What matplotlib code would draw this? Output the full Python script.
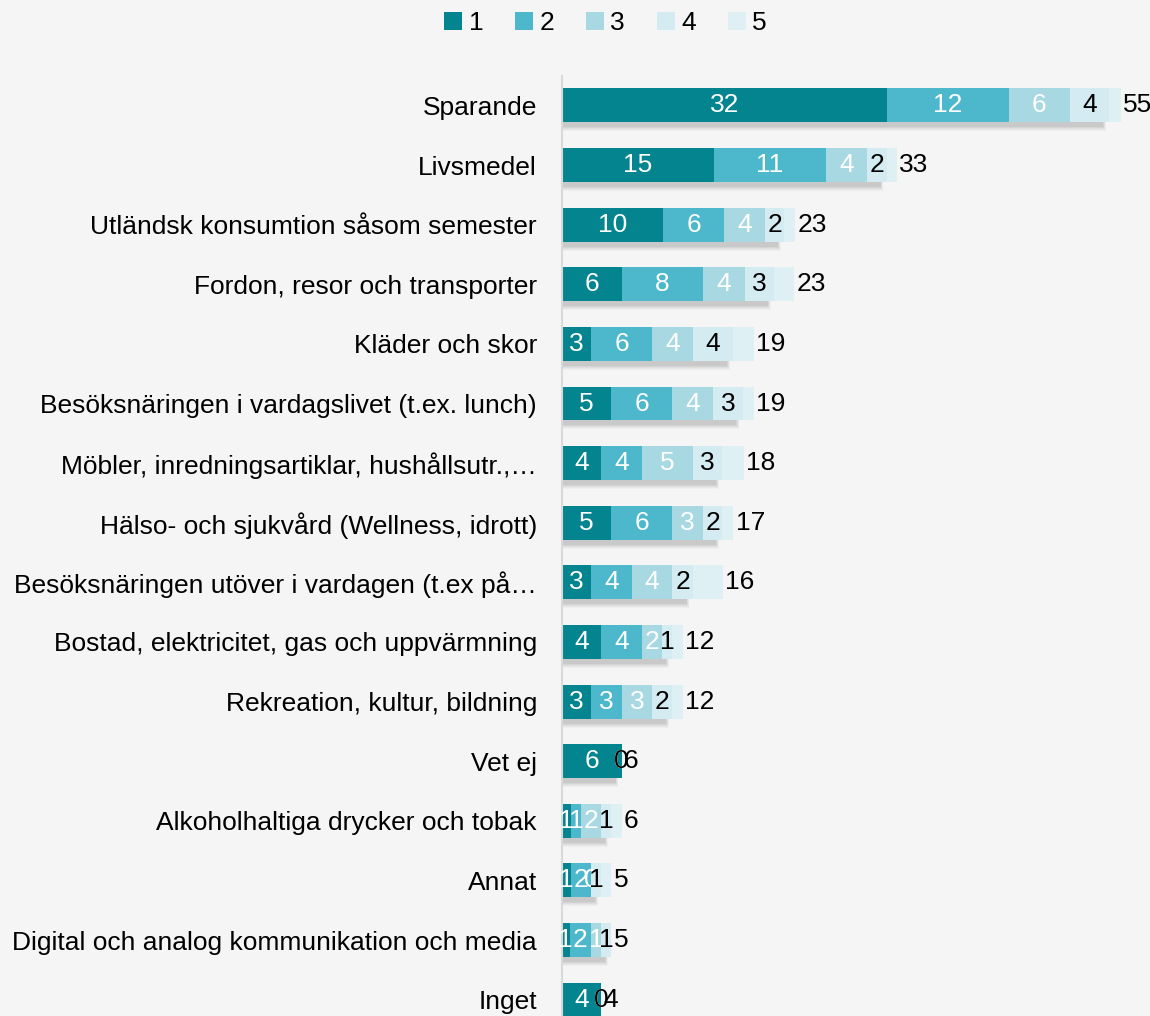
import matplotlib
matplotlib.use('Agg')
from matplotlib import pyplot as plt
from matplotlib.patches import Patch, Rectangle

plt.rcParams['font.family'] = ['Liberation Sans', 'DejaVu Sans']

categories = ['Sparande', 'Livsmedel', 'Utländsk konsumtion såsom semester',
              'Fordon, resor och transporter', 'Kläder och skor',
              'Besöksnäringen i vardagslivet (t.ex. lunch)',
              'Möbler, inredningsartiklar, hushållsutr.,…',
              'Hälso- och sjukvård (Wellness, idrott)',
              'Besöksnäringen utöver i vardagen (t.ex på…',
              'Bostad, elektricitet, gas och uppvärmning',
              'Rekreation, kultur, bildning', 'Vet ej',
              'Alkoholhaltiga drycker och tobak', 'Annat',
              'Digital och analog kommunikation och media', 'Inget']
s1 = [32, 15, 10, 5.9, 2.9, 4.9, 3.9, 4.9, 2.9, 3.9, 2.9, 5.9, 0.9, 0.9, 0.8, 3.9]
s2 = [12, 11, 6, 8, 6, 6, 4, 6, 4, 4, 3, 0, 1, 2, 2.1, 0]
s3 = [6, 4, 4, 4.1, 4, 4, 5, 3, 4, 2, 3, 0, 2, 0, 1, 0]
s4 = [3.9, 2, 1.9, 2.9, 4, 2.9, 2.9, 1.9, 2, 1, 2, 0, 1, 1, 1, 0]
s5 = [1.1, 1, 1.1, 2, 2, 1.1, 2.1, 1.1, 3, 1, 1, 0, 1, 1, 0, 0]
series_names = ['1', '2', '3', '4', '5']

colors = ['#03848f', '#4db8cb', '#a8d9e3', '#d4ebf1', '#dff0f4']
label_colors = ['white', 'white', 'white', 'black', None]
bg = '#f5f5f5'

fig = plt.figure(figsize=(11.5, 10.16), dpi=100, facecolor=bg)
ax = fig.add_axes([561.7 / 1150, -0.0133, 1 - 561.7 / 1150, 0.9389])
ax.set_facecolor(bg)

series = [s1, s2, s3, s4, s5]
ypos = list(range(len(categories)))
h = 0.57
px = 1 / 59.6  # one pixel in y data units

# soft shadow under the first four segments
for y in ypos:
    w4 = s1[y] + s2[y] + s3[y] + s4[y]
    for k, a in enumerate([0.035, 0.04, 0.05, 0.06, 0.07]):
        grow = (4 - k) * 1.0 * px
        ax.add_patch(Rectangle((0, y - h / 2 + 5 * px - grow), max(w4 - 0.6, 0) + grow * 4,
                               h + 2 * grow, facecolor='#404040', alpha=a,
                               edgecolor='none', zorder=1))

left = [0] * len(categories)
for i, vals in enumerate(series):
    ax.barh(ypos, vals, left=left, height=h, color=colors[i], label=series_names[i],
            zorder=2, linewidth=0)
    if label_colors[i] is not None:
        for y, (v, l) in enumerate(zip(vals, left)):
            ax.text(l + v / 2, y, f'{round(v)}', ha='center', va='center',
                    color=label_colors[i], fontsize=19, zorder=3)
    left = [l + v for l, v in zip(left, vals)]

for y, tot in enumerate(left):
    ax.text(tot + 0.22, y, f'{round(tot)}', ha='left', va='center',
            color='black', fontsize=19, zorder=3)

ax.set_xlim(0, 57.9)
ax.set_ylim(15.5, -0.5)
ax.set_yticks(ypos)
ax.set_yticklabels(categories, fontsize=19)
ax.tick_params(axis='y', length=0, pad=17.8)
ax.set_xticks([])
for sp in ['top', 'right', 'bottom']:
    ax.spines[sp].set_visible(False)
ax.spines['left'].set_color('#d9d9d9')
ax.spines['left'].set_linewidth(1.5)

handles = [Patch(facecolor=c, edgecolor='none') for c in colors]
fig.legend(handles, series_names, loc='center', bbox_to_anchor=(0.5265, 1 - 23 / 1016),
           ncol=5, frameon=False, fontsize=19, handlelength=0.68, handleheight=0.68,
           handletextpad=0.24, columnspacing=1.21, borderpad=0)

fig.savefig('out.png', dpi=100, facecolor=bg)
